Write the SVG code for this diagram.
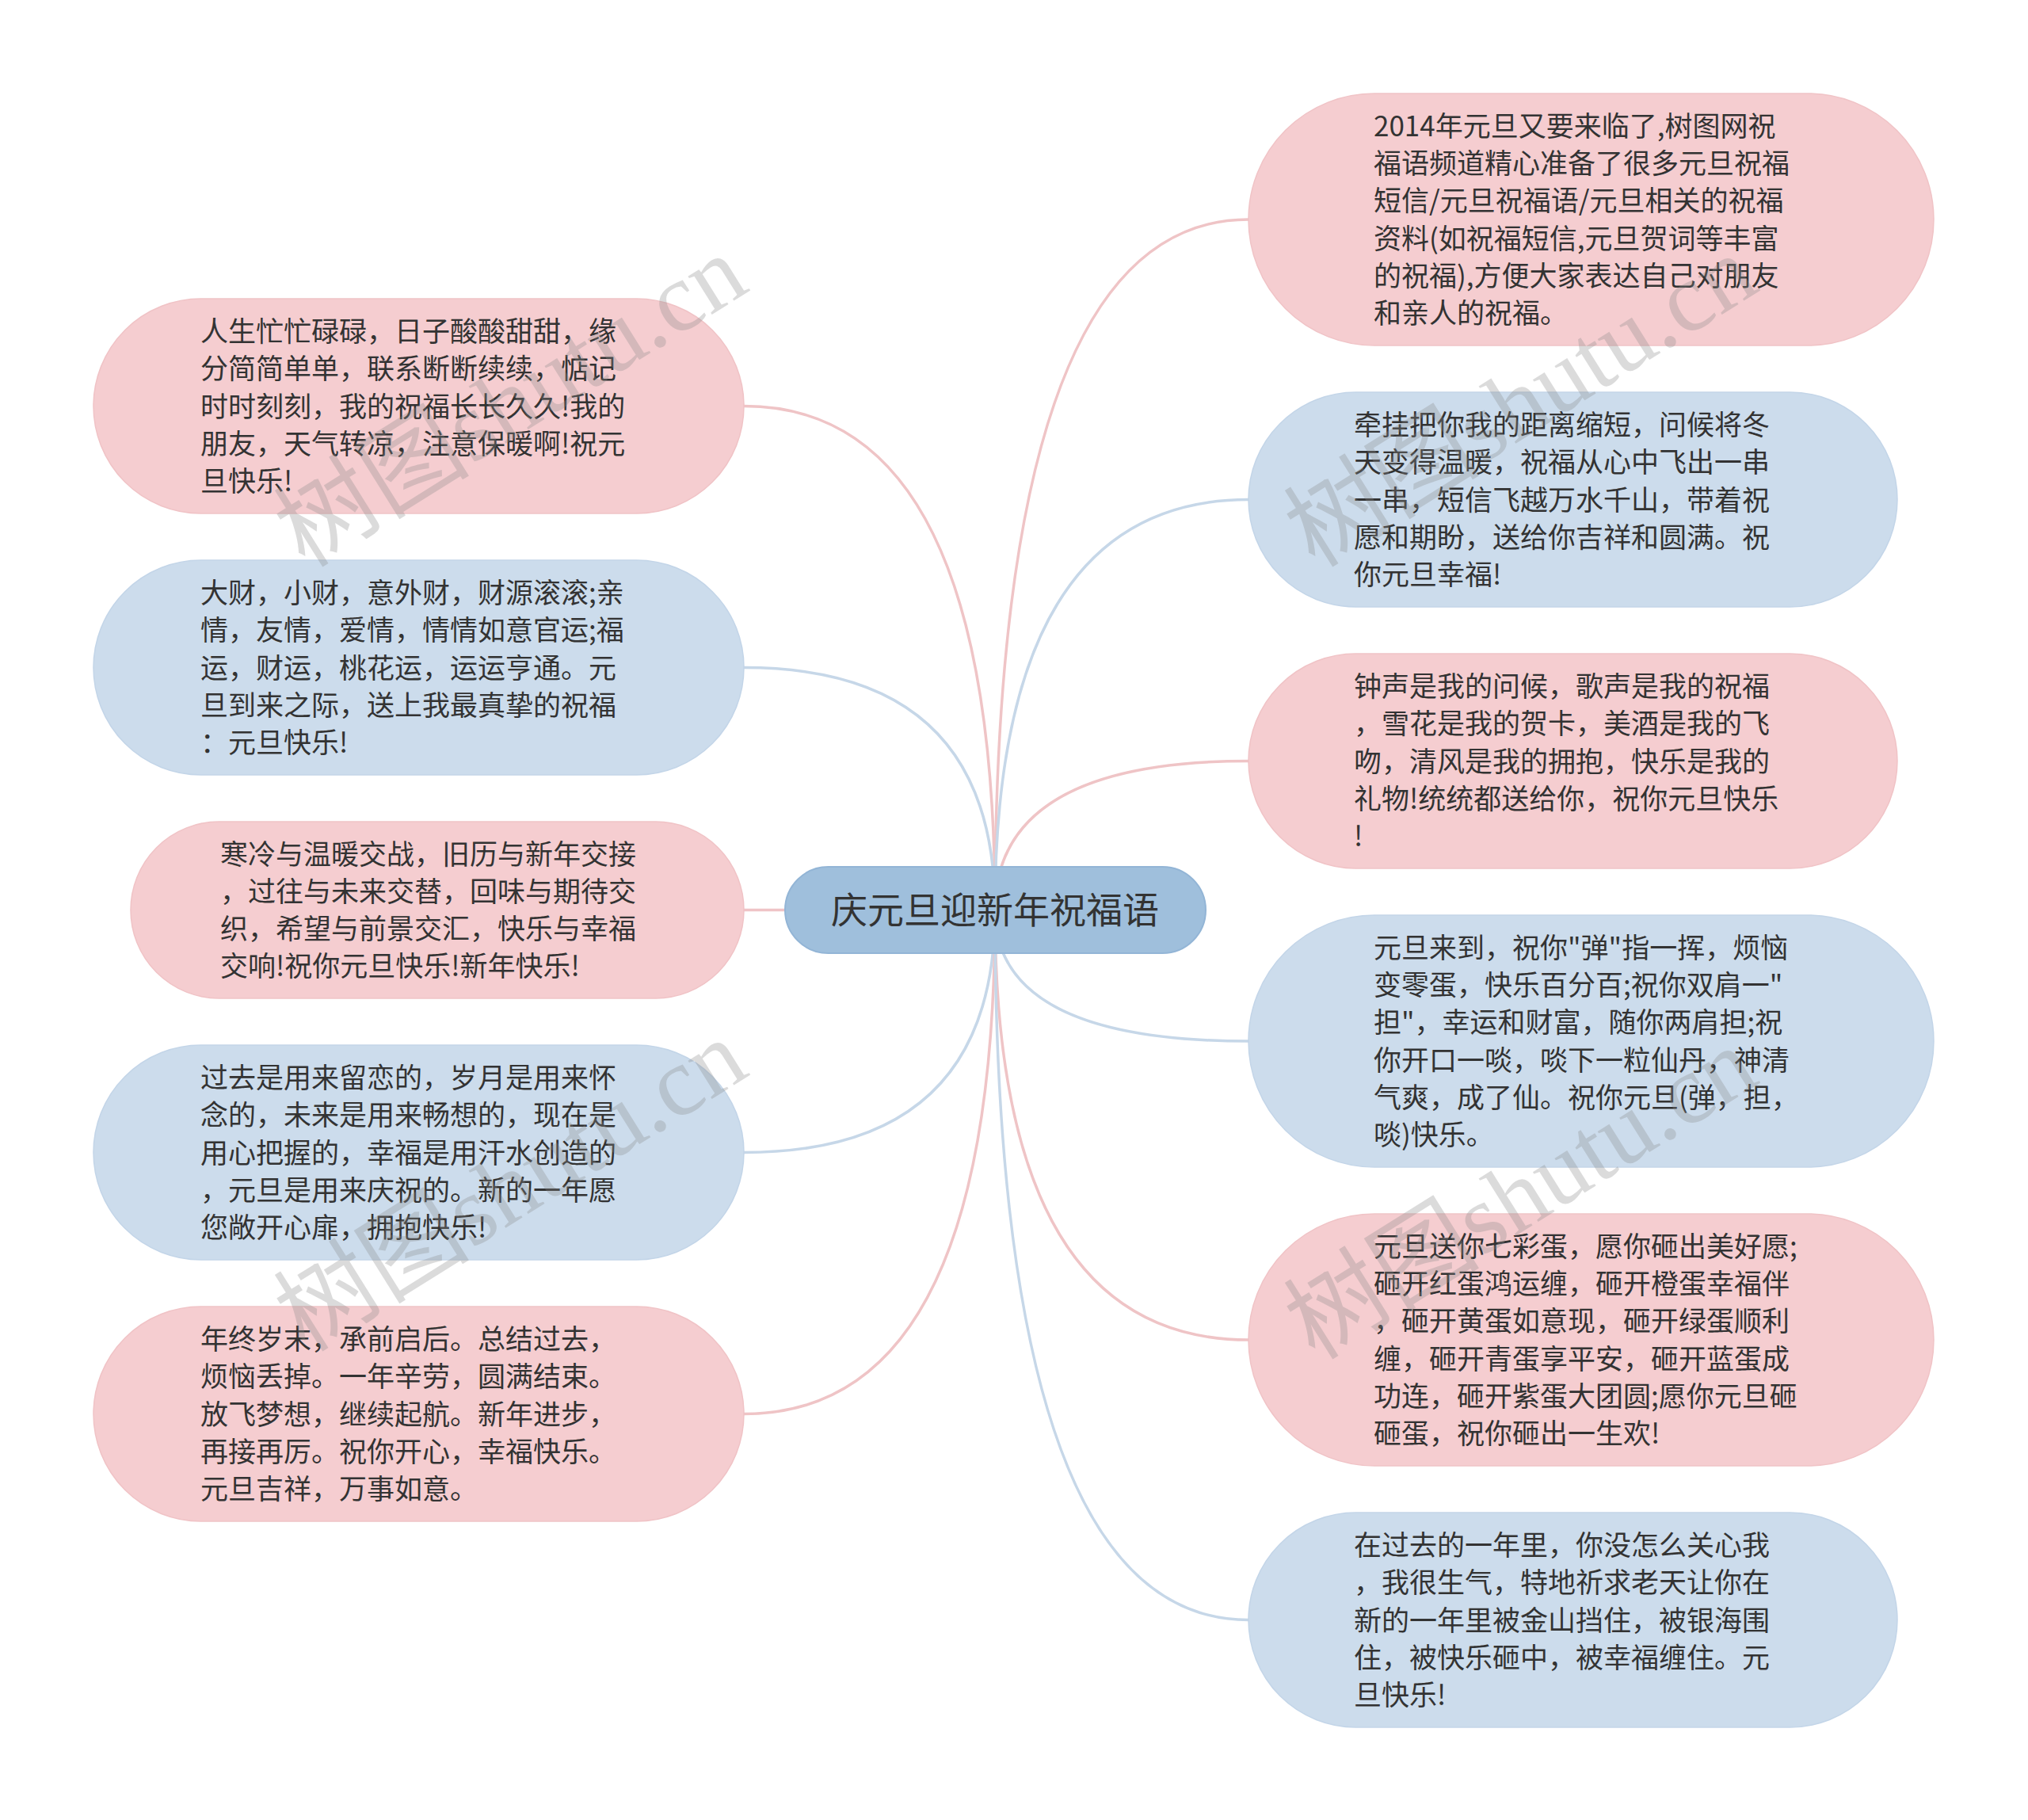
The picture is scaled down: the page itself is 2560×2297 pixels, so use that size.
<svg xmlns="http://www.w3.org/2000/svg" width="2560" height="2297" viewBox="0 0 2560 2297">
<style>
.pink{fill:#f5cdd0;stroke:#f0c3c6;stroke-width:1.5}
.blue{fill:#ccdcec;stroke:#c3d5e8;stroke-width:1.5}
.cp{fill:none;stroke:#efc4c6;stroke-width:3.5}
.cb{fill:none;stroke:#c6d7e8;stroke-width:3.5}
.t{font-family:"Noto Sans CJK SC","Noto Sans",sans-serif;font-size:35px;fill:#333}
.wm{font-family:"Liberation Serif","Noto Sans CJK SC",serif;font-size:124px;fill:#8a8a8a;opacity:0.3}
</style>
<rect width="2560" height="2297" fill="#ffffff"/>
<g id="connectors">
<path class="cp" d="M1256 1149 Q1256 512.5 939 512.5"/>
<path class="cb" d="M1256 1149 Q1256 842.5 939 842.5"/>
<path class="cp" d="M1256 1149 Q1256 1148.5 939 1148.5"/>
<path class="cb" d="M1256 1149 Q1256 1454.5 939 1454.5"/>
<path class="cp" d="M1256 1149 Q1256 1784.5 939 1784.5"/>
<path class="cp" d="M1256 1149 Q1256 277 1576 277"/>
<path class="cb" d="M1256 1149 Q1256 630.5 1576 630.5"/>
<path class="cp" d="M1256 1149 Q1256 960.5 1576 960.5"/>
<path class="cb" d="M1256 1149 Q1256 1314 1576 1314"/>
<path class="cp" d="M1256 1149 Q1256 1691 1576 1691"/>
<path class="cb" d="M1256 1149 Q1256 2044.5 1576 2044.5"/>
</g>
<g id="center">
<rect x="991" y="1094" width="531" height="109" rx="54.5" fill="#9fbfdc" stroke="#93b5d6" stroke-width="2"/>
<text x="1256" y="1165" text-anchor="middle" font-family="Noto Sans CJK SC, sans-serif" font-size="46" fill="#333">庆元旦迎新年祝福语</text>
</g>
<g id="L1">
<rect class="pink" x="118" y="377" width="821" height="271" rx="135.5"/>
<text class="t" y="430.9"><tspan x="253">人生忙忙碌碌，日子酸酸甜甜，缘</tspan><tspan x="253" dy="47.3">分简简单单，联系断断续续，惦记</tspan><tspan x="253" dy="47.3">时时刻刻，我的祝福长长久久!我的</tspan><tspan x="253" dy="47.3">朋友，天气转凉，注意保暖啊!祝元</tspan><tspan x="253" dy="47.3">旦快乐!</tspan></text>
</g>
<g id="L2">
<rect class="blue" x="118" y="707" width="821" height="271" rx="135.5"/>
<text class="t" y="760.9"><tspan x="253">大财，小财，意外财，财源滚滚;亲</tspan><tspan x="253" dy="47.3">情，友情，爱情，情情如意官运;福</tspan><tspan x="253" dy="47.3">运，财运，桃花运，运运亨通。元</tspan><tspan x="253" dy="47.3">旦到来之际，送上我最真挚的祝福</tspan><tspan x="253" dy="47.3">：元旦快乐!</tspan></text>
</g>
<g id="L3">
<rect class="pink" x="165" y="1037" width="774" height="223" rx="111.5"/>
<text class="t" y="1090.5"><tspan x="278">寒冷与温暖交战，旧历与新年交接</tspan><tspan x="278" dy="47.3">，过往与未来交替，回味与期待交</tspan><tspan x="278" dy="47.3">织，希望与前景交汇，快乐与幸福</tspan><tspan x="278" dy="47.3">交响!祝你元旦快乐!新年快乐!</tspan></text>
</g>
<g id="L4">
<rect class="blue" x="118" y="1319" width="821" height="271" rx="135.5"/>
<text class="t" y="1372.9"><tspan x="253">过去是用来留恋的，岁月是用来怀</tspan><tspan x="253" dy="47.3">念的，未来是用来畅想的，现在是</tspan><tspan x="253" dy="47.3">用心把握的，幸福是用汗水创造的</tspan><tspan x="253" dy="47.3">，元旦是用来庆祝的。新的一年愿</tspan><tspan x="253" dy="47.3">您敞开心扉，拥抱快乐!</tspan></text>
</g>
<g id="L5">
<rect class="pink" x="118" y="1649" width="821" height="271" rx="135.5"/>
<text class="t" y="1702.9"><tspan x="253">年终岁末，承前启后。总结过去，</tspan><tspan x="253" dy="47.3">烦恼丢掉。一年辛劳，圆满结束。</tspan><tspan x="253" dy="47.3">放飞梦想，继续起航。新年进步，</tspan><tspan x="253" dy="47.3">再接再厉。祝你开心，幸福快乐。</tspan><tspan x="253" dy="47.3">元旦吉祥，万事如意。</tspan></text>
</g>
<g id="R1">
<rect class="pink" x="1576" y="118" width="865" height="318" rx="159"/>
<text class="t" y="171.75"><tspan x="1734">2014年元旦又要来临了,树图网祝</tspan><tspan x="1734" dy="47.3">福语频道精心准备了很多元旦祝福</tspan><tspan x="1734" dy="47.3">短信/元旦祝福语/元旦相关的祝福</tspan><tspan x="1734" dy="47.3">资料(如祝福短信,元旦贺词等丰富</tspan><tspan x="1734" dy="47.3">的祝福),方便大家表达自己对朋友</tspan><tspan x="1734" dy="47.3">和亲人的祝福。</tspan></text>
</g>
<g id="R2">
<rect class="blue" x="1576" y="495" width="819" height="271" rx="135.5"/>
<text class="t" y="548.9"><tspan x="1709">牵挂把你我的距离缩短，问候将冬</tspan><tspan x="1709" dy="47.3">天变得温暖，祝福从心中飞出一串</tspan><tspan x="1709" dy="47.3">一串，短信飞越万水千山，带着祝</tspan><tspan x="1709" dy="47.3">愿和期盼，送给你吉祥和圆满。祝</tspan><tspan x="1709" dy="47.3">你元旦幸福!</tspan></text>
</g>
<g id="R3">
<rect class="pink" x="1576" y="825" width="819" height="271" rx="135.5"/>
<text class="t" y="878.9"><tspan x="1709">钟声是我的问候，歌声是我的祝福</tspan><tspan x="1709" dy="47.3">，雪花是我的贺卡，美酒是我的飞</tspan><tspan x="1709" dy="47.3">吻，清风是我的拥抱，快乐是我的</tspan><tspan x="1709" dy="47.3">礼物!统统都送给你，祝你元旦快乐</tspan><tspan x="1709" dy="47.3">!</tspan></text>
</g>
<g id="R4">
<rect class="blue" x="1576" y="1155" width="865" height="318" rx="159"/>
<text class="t" y="1208.75"><tspan x="1734">元旦来到，祝你"弹"指一挥，烦恼</tspan><tspan x="1734" dy="47.3">变零蛋，快乐百分百;祝你双肩一"</tspan><tspan x="1734" dy="47.3">担"，幸运和财富，随你两肩担;祝</tspan><tspan x="1734" dy="47.3">你开口一啖，啖下一粒仙丹，神清</tspan><tspan x="1734" dy="47.3">气爽，成了仙。祝你元旦(弹，担，</tspan><tspan x="1734" dy="47.3">啖)快乐。</tspan></text>
</g>
<g id="R5">
<rect class="pink" x="1576" y="1532" width="865" height="318" rx="159"/>
<text class="t" y="1585.75"><tspan x="1734">元旦送你七彩蛋，愿你砸出美好愿;</tspan><tspan x="1734" dy="47.3">砸开红蛋鸿运缠，砸开橙蛋幸福伴</tspan><tspan x="1734" dy="47.3">，砸开黄蛋如意现，砸开绿蛋顺利</tspan><tspan x="1734" dy="47.3">缠，砸开青蛋享平安，砸开蓝蛋成</tspan><tspan x="1734" dy="47.3">功连，砸开紫蛋大团圆;愿你元旦砸</tspan><tspan x="1734" dy="47.3">砸蛋，祝你砸出一生欢!</tspan></text>
</g>
<g id="R6">
<rect class="blue" x="1576" y="1909" width="819" height="271" rx="135.5"/>
<text class="t" y="1962.9"><tspan x="1709">在过去的一年里，你没怎么关心我</tspan><tspan x="1709" dy="47.3">，我很生气，特地祈求老天让你在</tspan><tspan x="1709" dy="47.3">新的一年里被金山挡住，被银海围</tspan><tspan x="1709" dy="47.3">住，被快乐砸中，被幸福缠住。元</tspan><tspan x="1709" dy="47.3">旦快乐!</tspan></text>
</g>
<g id="watermarks">
<text class="wm" transform="translate(385 718) rotate(-32)">树图shutu.cn</text>
<text class="wm" transform="translate(385 1708) rotate(-32)">树图shutu.cn</text>
<text class="wm" transform="translate(1660 718) rotate(-32)">树图shutu.cn</text>
<text class="wm" transform="translate(1660 1718) rotate(-32)">树图shutu.cn</text>
</g>
</svg>
